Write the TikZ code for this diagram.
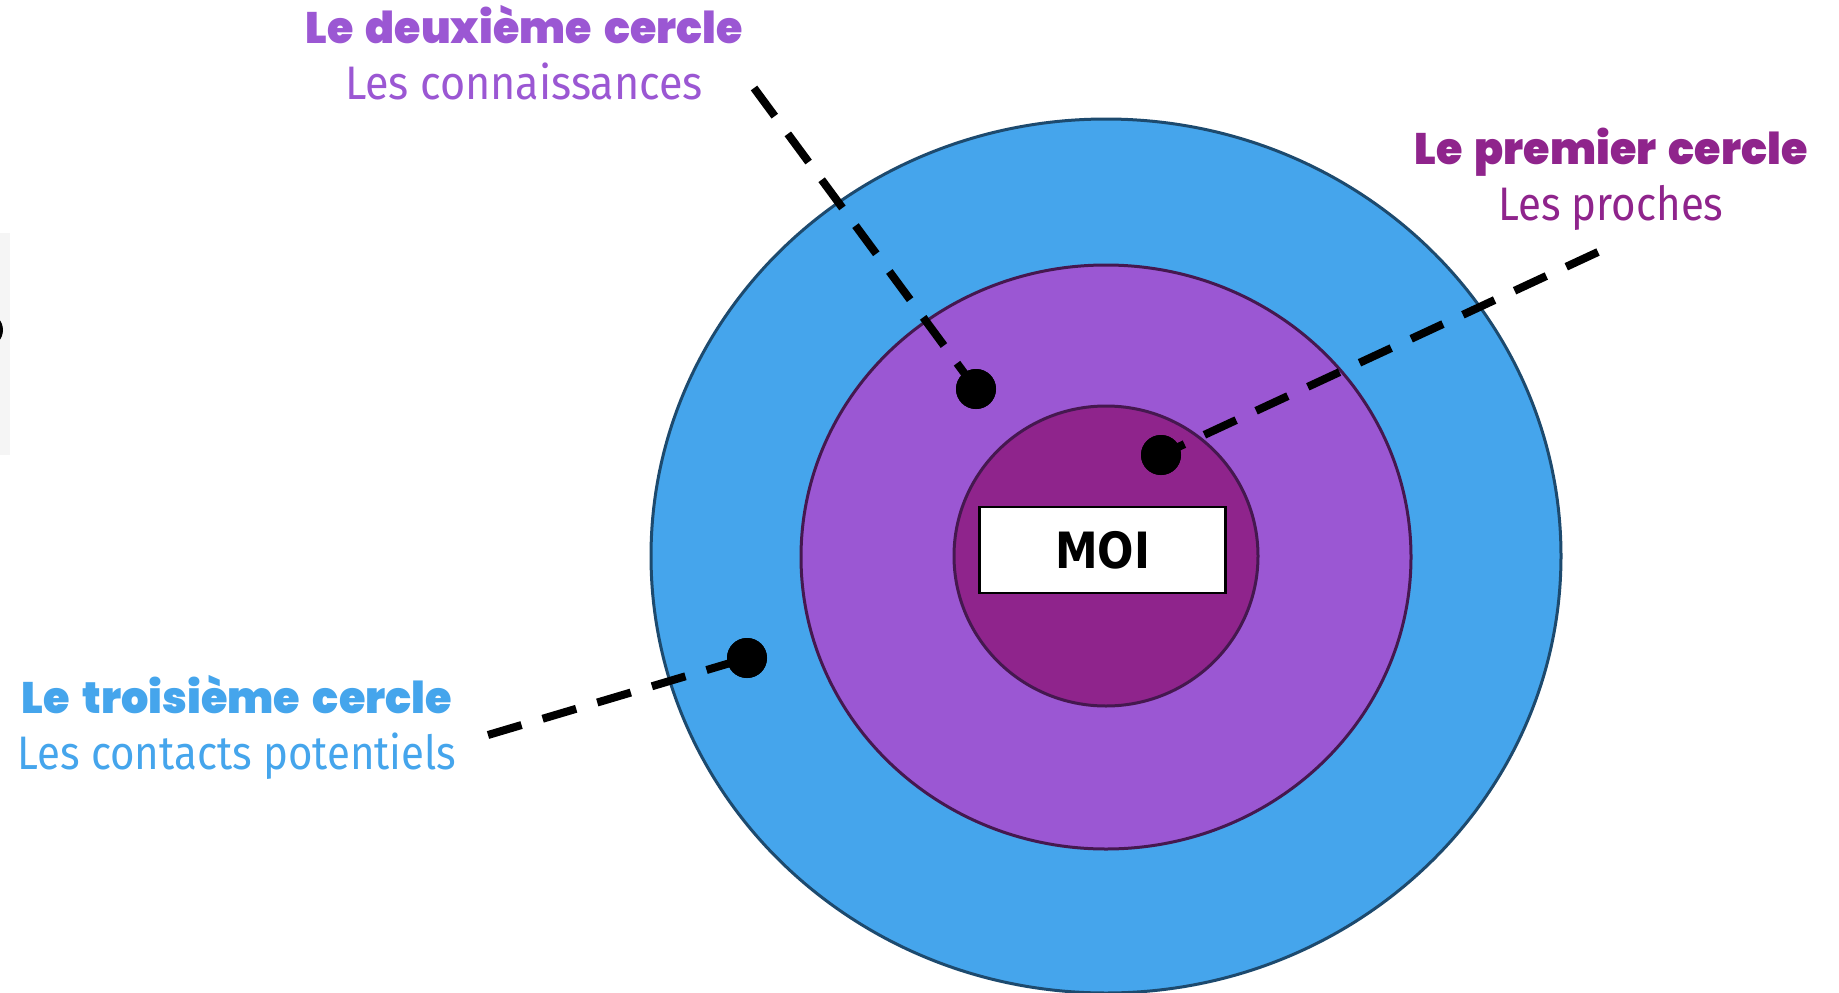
\documentclass[tikz,border=0pt]{standalone}
\usepackage{fontspec}
\setmainfont{Fira Sans}
\newfontfamily\heavyfont{Poppins}[UprightFont=* Black, WordSpace=1.7]
\newfontfamily\lightfont{Fira Sans}
\newfontfamily\moifont{DejaVu Sans}
\newcommand\fitto[2]{\resizebox{#1}{\height}{#2}}
\definecolor{cblue}{HTML}{45A5EC}
\definecolor{cblueline}{HTML}{1D4A6E}
\definecolor{cpurple}{HTML}{9B57D3}
\definecolor{cplum}{HTML}{8F248C}
\definecolor{cdarkline}{HTML}{45184F}
\definecolor{cartifact}{HTML}{F5F5F5}
\tikzset{
  heavytext/.style={anchor=base, inner sep=0pt, font=\heavyfont\fontsize{44}{48}\selectfont},
  lighttext/.style={anchor=base, inner sep=0pt, font=\lightfont\fontsize{47}{52}\selectfont},
  dotmark/.style={circle, fill=black, minimum size=40pt, inner sep=0pt},
  leader/.style={line width=8pt, dash pattern=on 35pt off 22pt, black},
}
\begin{document}
\begin{tikzpicture}[x=1pt, y=-1pt]
\useasboundingbox (0,0) rectangle (1839,993);
% left edge artifact
\fill[cartifact] (0,233) rectangle (10,455);
\begin{scope}
\clip (0,233) rectangle (10,455);
\fill[black] (-14,330) circle[radius=17pt];
\end{scope}
% circles
\draw[fill=cblue, draw=cblueline, line width=3pt] (1106,556) ellipse [x radius=455pt, y radius=437pt];
\draw[fill=cpurple, draw=cdarkline, line width=3pt] (1106,557) ellipse [x radius=305pt, y radius=292pt];
\draw[fill=cplum, draw=cdarkline, line width=3pt] (1106,556) ellipse [x radius=152pt, y radius=150pt];
% MOI box
\node[draw=black, line width=2.5pt, fill=white, minimum width=246pt, minimum height=86pt, inner sep=0pt,
      font=\moifont\bfseries\fontsize{50}{55}\selectfont] (moi) at (1102.5,550) {\fitto{95pt}{MOI}};
% dots and free ends of the leaders
\node[dotmark] (d1) at (1161,455) {};
\node[dotmark] (d2) at (976,389) {};
\node[dotmark] (d3) at (747,658) {};
\coordinate (e1) at (1598,252);
\coordinate (e2) at (754,88);
\coordinate (e3) at (488,735);
\draw[leader] (e1) -- (d1.center);
\draw[leader] (e2) -- (d2.center);
\draw[leader] (e3) -- (d3.center);
\node[dotmark] at (d1) {};
\node[dotmark] at (d2) {};
\node[dotmark] at (d3) {};
% labels
\node[heavytext, text=cpurple] (t2) at (524,43) {\fitto{437pt}{Le deuxième cercle}};
\node[lighttext, text=cpurple] (s2) at (524,99) {\fitto{358pt}{Les connaissances}};
\node[heavytext, text=cplum] (t1) at (1611,164) {\fitto{393pt}{Le premier cercle}};
\node[lighttext, text=cplum] (s1) at (1611,220) {\fitto{225pt}{Les proches}};
\node[heavytext, text=cblue] (t3) at (237,713) {\fitto{430pt}{Le troisième cercle}};
\node[lighttext, text=cblue] (s3) at (237,769) {\fitto{439pt}{Les contacts potentiels}};
\end{tikzpicture}
\end{document}
